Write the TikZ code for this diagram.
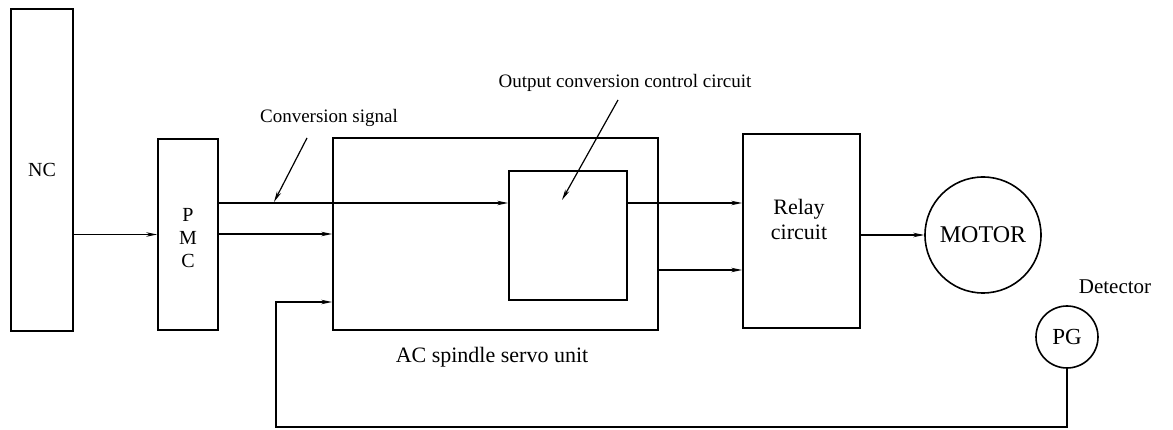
\documentclass[tikz,border=0pt]{standalone}
\usepackage{fontspec}
\setmainfont{Liberation Serif}
\usetikzlibrary{arrows.meta,calc}
\begin{document}
\begin{tikzpicture}[x=1pt,y=-1pt,
  box/.style={draw,line width=1.7pt,rectangle,inner sep=0pt},
  circ/.style={draw,line width=1.6pt,circle,inner sep=0pt},
  arr/.style={line width=1.2pt,-{Stealth[length=11pt,width=4.5pt]}},
  txt/.style={inner sep=0pt,font=\fontsize{19}{22}\selectfont},
  big/.style={inner sep=0pt,font=\fontsize{23}{26}\selectfont}]
\useasboundingbox[fill=white] (0,0) rectangle (1173,430);
% blocks
\node[box,minimum width=62pt,minimum height=322pt,txt,font=\fontsize{20}{22}\selectfont] (nc) at (42,170) {NC};
\node[box,minimum width=60pt,minimum height=191pt] (pmc) at (188,234.5) {};
\node[txt,align=center,font=\fontsize{20}{23}\selectfont] (pmctext) at (188,238) {P\\M\\C};
\node[box,minimum width=325pt,minimum height=192pt] (ac) at (495.5,234) {};
\node[box,minimum width=118pt,minimum height=129pt] (inner) at (568,235.5) {};
\node[box,minimum width=117pt,minimum height=194pt] (relay) at (801.5,231) {};
\node[txt,align=center,font=\fontsize{22}{25}\selectfont] (relaytext) at (799,219) {Relay\\circuit};
\node[circ,minimum size=116pt,big,font=\fontsize{24}{26}\selectfont] (motor) at (983,235) {MOTOR};
\node[circ,minimum size=62pt,big] (pg) at (1067,337) {PG};
% labels
\node[txt] (cslabel) at (329,118) {Conversion signal};
\node[txt] (oclabel) at (625,83) {Output conversion control circuit};
\node[txt,font=\fontsize{22}{25}\selectfont] (aclabel) at (492,357) {AC spindle servo unit};
\node[txt,font=\fontsize{21}{24}\selectfont] (detlabel) at (1115,287) {Detector};
% helper coordinates
\coordinate (yA) at (0,203);
\coordinate (yB) at (0,270);
\coordinate (yF) at (0,302);
\coordinate (fbc) at (276,427);
\coordinate (cs0) at (307,138);
\coordinate (cs1) at (274,202);
\coordinate (oc0) at (618,100);
\coordinate (oc1) at (562,200);
% connectors
\draw[arr] (nc.east |- pmc.west) -- (pmc.west);
\draw[arr] (pmc.east |- yA) -- (inner.west |- yA);
\draw[arr] (pmc.east |- ac.west) -- (ac.west);
\draw[arr] (inner.east |- yA) -- (relay.west |- yA);
\draw[arr] (ac.east |- yB) -- (relay.west |- yB);
\draw[arr] (relay.east |- motor.west) -- (motor.west);
\draw[arr] (pg.south) |- (fbc) |- (ac.west |- yF);
\draw[arr] (cs0) -- (cs1);
\draw[arr] (oc0) -- (oc1);
\end{tikzpicture}
\end{document}
